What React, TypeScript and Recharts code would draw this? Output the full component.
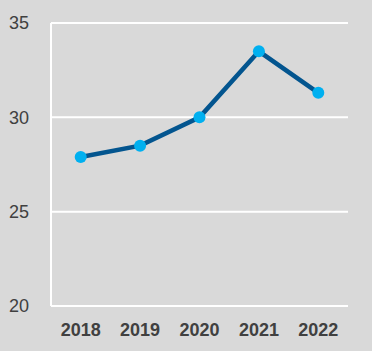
import React from 'react';
import { LineChart, Line, XAxis, YAxis, CartesianGrid } from 'recharts';

const years = ['2018', '2019', '2020', '2021', '2022'];
const values = [27.9, 28.5, 30.0, 33.5, 31.3];
const yTicks = [20, 25, 30, 35];

const data = years.map((year, i) => ({ year, value: values[i] }));

const App = () => {
  return (
    <div style={{ position: 'absolute', left: 0, top: 0, width: 372, height: 351, background: '#d9d9d9' }}>
      <LineChart width={372} height={351} data={data} margin={{ top: 23, right: 24, bottom: 5, left: 0 }}>
        <CartesianGrid vertical={false} stroke="#ffffff" strokeWidth={2} />
        <XAxis
          dataKey="year"
          scale="band"
          height={40}
          axisLine={{ stroke: '#ffffff', strokeWidth: 2 }}
          tickLine={false}
          tickSize={0}
          tickMargin={17}
          tick={{ fill: '#404040', fontSize: 18, fontWeight: 'bold', fontFamily: 'Liberation Sans, Arial, sans-serif' }}
        />
        <YAxis
          domain={[20, 35]}
          ticks={yTicks}
          width={51}
          axisLine={{ stroke: '#ffffff', strokeWidth: 2 }}
          tickLine={false}
          tickSize={0}
          tickMargin={22}
          tick={{ fill: '#404040', fontSize: 18, fontFamily: 'Liberation Sans, Arial, sans-serif' }}
        />
        <Line
          type="linear"
          dataKey="value"
          stroke="#03558f"
          strokeWidth={4.5}
          dot={{ r: 6, fill: '#00b0f0', stroke: 'none' }}
          activeDot={false}
          isAnimationActive={false}
        />
      </LineChart>
    </div>
  );
};

export default App;
